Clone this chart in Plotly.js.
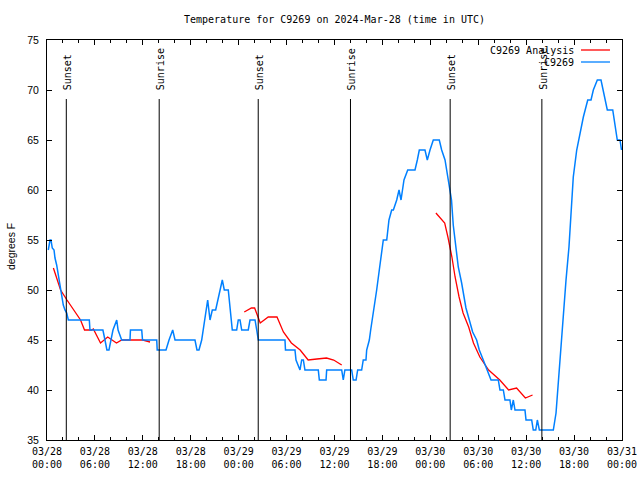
<!DOCTYPE html>
<html>
<head>
<meta charset="utf-8">
<script src="https://cdn.plot.ly/plotly-3.0.1.min.js"></script>
<style>html,body{margin:0;padding:0;background:#fff;}#chart{width:640px;height:480px;}</style>
</head>
<body>
<div id="chart"></div>
<script>
// Hours after 2024-03-28 00:00 UTC
const stationHours = [0.16,0.38,0.5,0.66,0.88,1.0,1.21,1.34,1.5,1.63,1.84,2.04,2.25,2.47,2.67,5.3,5.38,7.0,7.26,7.5,7.76,8.0,8.26,8.73,8.9,9.35,10.39,10.45,11.86,11.96,13.74,13.8,14.9,15.28,15.74,16.03,
18.53,18.78,19.03,19.37,20.12,20.41,20.7,21.12,21.95,22.2,22.7,23.2,23.75,23.95,24.17,24.38,25.2,25.42,26.05,26.26,26.46,29.8,29.86,31.05,31.18,31.68,31.89,32.1,32.3,33.97,34.1,34.94,35.02,36.9,37.1,37.3,38.15,38.35,38.7,38.9,39.4,39.6,39.94,40.03,40.36,
40.53,40.74,40.87,41.28,41.61,42.11,42.54,42.82,43.16,43.37,43.79,44.08,44.33,44.7,45.17,46.08,46.37,46.62,47.33,47.62,47.96,48.37,49.12,49.42,49.84,50.05,50.25,50.46,50.65,50.87,51.21,51.5,51.92,52.13,52.46,52.88,53.3,53.8,54.13,54.63,55.26,55.6,56.51,56.72,57.14,57.35,57.97,58.14,58.39,58.6,59.85,59.98,60.69,60.89,61.2,61.4,61.65,63.4,63.74,64.03,64.33,64.65,64.99,65.36,65.61,65.9,66.33,66.74,67.16,67.71,68.12,68.41,68.91,69.37,69.66,70.16,70.84,71.21,71.41,71.75,71.94];
const stationTemp = [54,55,55,54.2,54,53.2,52.5,51.8,51,50.5,49.5,48.5,48,47.7,47,47,46,46,45,44,44,45,46,47,46,45,45,46,46,45,45,44,44,45,46,45,
45,44,44,45,49,47,48,48,51,50,50,46,46,47,47,46,46,47,47,46,45,45,44,44,43,42,43,43,42,42,41,41,42,42,41,42,42,41,41,42,42,43,43,44,45,
46,47,48,50,52,55,55,57,58,58,59,60,59,61,62,62,63,64,64,63,64,65,65,64,63,62,61,60,59,56.5,54.5,52.3,50.7,49.7,48.2,47,45.8,45,44,43,41.7,41,41,40,40,39,39,38,39,38,38,37,37,36,36,37,36,36,37.7,41,44.3,47.7,51,54.3,57.7,61.3,64,65.7,67.3,69,69,70,71,71,70,68,68,66,65,65,64];

const analysisHours = [0.8,1.3,1.7,2.5,3.3,3.7,4.2,4.7,5.6,5.8,6.7,7.6,8.7,9.35,12.0,12.9,null,
24.7,25.6,26.0,26.7,27.7,28.8,29.6,30.6,31.7,32.7,33.8,35.0,35.9,36.9,null,
48.7,49.8,50.2,50.7,51.1,51.6,52.1,52.8,53.4,54.2,55.3,56.7,57.8,58.8,59.9,60.8];
const analysisTemp = [52.2,51.1,50,49,48,47.5,47,46,46,46.1,44.7,45.3,44.7,45,45,44.8,null,
47.8,48.2,48.2,46.7,47.3,47.3,45.8,44.7,44,43,43.1,43.2,43,42.5,null,
57.7,56.7,55.3,53.3,51.3,49.3,47.7,46.3,44.7,43.3,42,41,40,40.2,39.2,39.5];

const sunEventTimes = ['2024-03-28 02:25','2024-03-28 14:03','2024-03-29 02:27','2024-03-29 14:00','2024-03-30 02:29','2024-03-30 13:58'];
const sunEventLabels = ['Sunset','Sunrise','Sunset','Sunrise','Sunset','Sunrise'];

const tickTimes = ['2024-03-28 00:00','2024-03-28 06:00','2024-03-28 12:00','2024-03-28 18:00','2024-03-29 00:00','2024-03-29 06:00','2024-03-29 12:00','2024-03-29 18:00','2024-03-30 00:00','2024-03-30 06:00','2024-03-30 12:00','2024-03-30 18:00','2024-03-31 00:00'];
const tickLabels = ['03/28<br>00:00','03/28<br>06:00','03/28<br>12:00','03/28<br>18:00','03/29<br>00:00','03/29<br>06:00','03/29<br>12:00','03/29<br>18:00','03/30<br>00:00','03/30<br>06:00','03/30<br>12:00','03/30<br>18:00','03/31<br>00:00'];

const seriesNames = ['C9269 Analysis','C9269'];
const seriesColors = ['#ff0000','#0080ff'];

const base = Date.UTC(2024,2,28);
function toTime(h){
  if(h===null) return null;
  return new Date(base + h*3600000).toISOString().replace('T',' ').slice(0,19);
}

const mono = 'DejaVu Sans Mono, monospace';
const sans = 'Liberation Sans, Arial, sans-serif';

const traces = [
  {x: analysisHours.map(toTime), y: analysisTemp, type:'scatter', mode:'lines', name: seriesNames[0],
   line:{color: seriesColors[0], width:1.3}, connectgaps:false},
  {x: stationHours.map(toTime), y: stationTemp, type:'scatter', mode:'lines', name: seriesNames[1],
   line:{color: seriesColors[1], width:1.5}}
];

const shapes = sunEventTimes.map(t => ({type:'line', xref:'x', yref:'paper', x0:t, x1:t, y0:0, y1:0.8525,
  line:{color:'#000', width:1}}));
const annotations = sunEventTimes.map((t,i) => ({x:t, xref:'x', y:0.87, yref:'paper', text:sunEventLabels[i],
  textangle:-90, showarrow:false, xanchor:'center', yanchor:'bottom', xshift:1,
  font:{family:mono, size:10, color:'#000'}}));

// legend (text right of line sample, as in the reference)
const legY = [0.975, 0.945];
seriesNames.forEach((n,i) => {
  annotations.push({x:0.92, xref:'paper', y:legY[i], yref:'paper', text:n, showarrow:false,
    xanchor:'right', yanchor:'middle', font:{family:mono, size:10, color:'#000'}});
  shapes.push({type:'line', xref:'paper', yref:'paper', x0:0.9287, x1:0.9791, y0:legY[i], y1:legY[i],
    line:{color:seriesColors[i], width:1.3}});
});

annotations.push({x:0, xref:'paper', xshift:-36, y:0.4825, yref:'paper', text:'degrees F', textangle:-90,
  showarrow:false, xanchor:'center', yanchor:'middle', font:{family:sans, size:10.5, color:'#000'}});

const layout = {
  width:640, height:480,
  margin:{l:47, r:18, t:40, b:40},
  paper_bgcolor:'#fff', plot_bgcolor:'#fff',
  showlegend:false,
  title:{text:'Temperature for C9269 on 2024-Mar-28 (time in UTC)', font:{family:mono, size:10, color:'#000'},
    x:0.5, xref:'paper', xanchor:'center', y:1-19/480, yref:'container', yanchor:'middle'},
  xaxis:{type:'date', range:['2024-03-28 00:00','2024-03-31 00:00'], tickmode:'array', tickvals:tickTimes, ticktext:tickLabels,
    ticks:'inside', ticklen:5, tickcolor:'#000', showline:true, linecolor:'#000', linewidth:1, mirror:'ticks',
    showgrid:false, zeroline:false, tickfont:{family:mono, size:10, color:'#000'}, ticklabelstandoff:2,
    minor:{tickmode:'linear', tick0:'2024-03-28 00:00', dtick:7200000, ticks:'inside', ticklen:3, tickcolor:'#000', showgrid:false}},
  yaxis:{range:[35,75], dtick:5, tick0:35, ticks:'inside', ticklen:5, tickcolor:'#000', showline:true, linecolor:'#000',
    linewidth:1, mirror:'ticks', showgrid:false, zeroline:false, tickfont:{family:sans, size:10.5, color:'#000'}, ticklabelstandoff:5},
  shapes: shapes,
  annotations: annotations
};

Plotly.newPlot('chart', traces, layout, {displayModeBar:false, staticPlot:true});
</script>
</body>
</html>
